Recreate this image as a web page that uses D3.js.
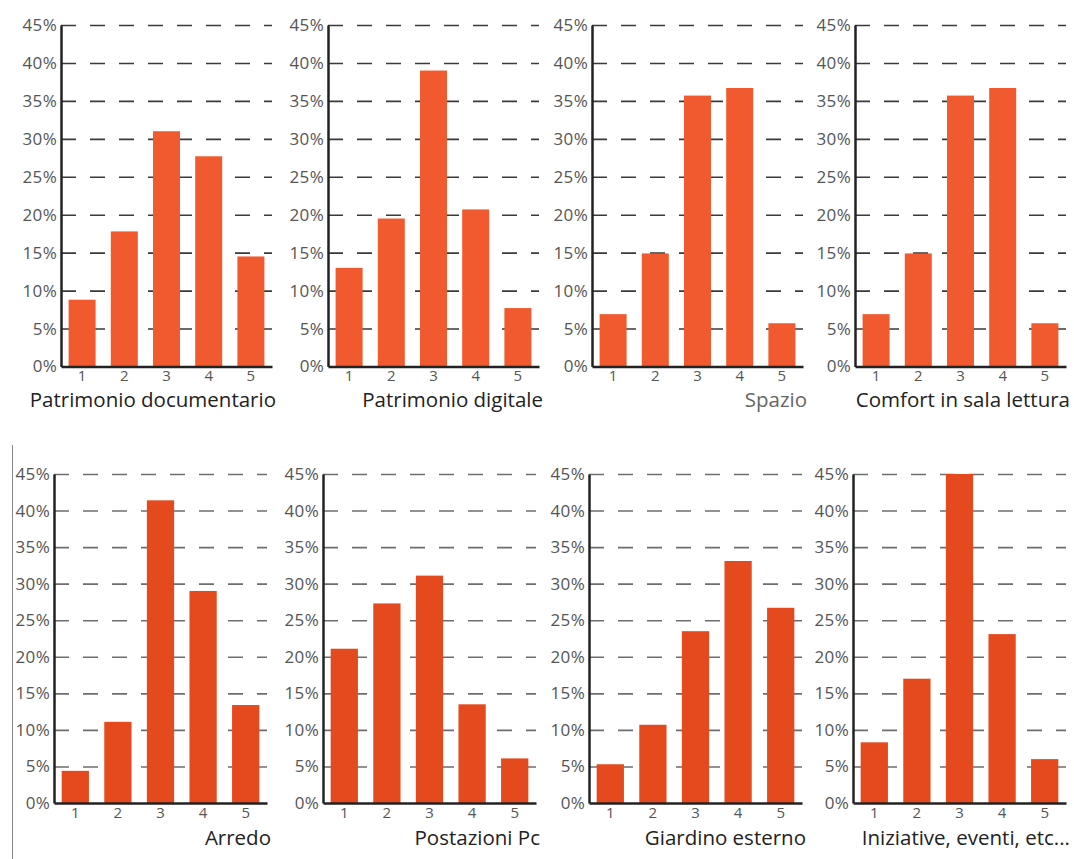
<!DOCTYPE html>
<html lang="it">
<head>
  <meta charset="UTF-8">
  <title>Valutazione servizi</title>
  <script src="https://d3js.org/d3.v7.min.js"></script>
  <style>
    body { margin: 0; background: #fff; }
    svg text { font-family: "Open Sans", Lato, sans-serif; }
    .grid line { stroke-dasharray: 15,14; }
    .grid .domain { display: none; }
  </style>
</head>
<body>
  <script>
  // rating categories and y ticks
  const ratings = ['1', '2', '3', '4', '5']
  const yTicks = [0, 5, 10, 15, 20, 25, 30, 35, 40, 45]

  const titles = [
    'Patrimonio documentario', 'Patrimonio digitale', 'Spazio', 'Comfort in sala lettura',
    'Arredo', 'Postazioni Pc', 'Giardino esterno', 'Iniziative, eventi, etc...'
  ]

  // percentages per rating (1..5)
  const patrimonioDocumentario = [8.8, 17.8, 31.0, 27.7, 14.5]
  const patrimonioDigitale = [13.0, 19.5, 39.0, 20.7, 7.7]
  const spazio = [6.9, 14.9, 35.7, 36.7, 5.7]
  const comfortSala = [6.9, 14.9, 35.7, 36.7, 5.7]
  const arredo = [4.4, 11.1, 41.4, 29.0, 13.4]
  const postazioniPc = [21.1, 27.3, 31.1, 13.5, 6.1]
  const giardinoEsterno = [5.3, 10.7, 23.5, 33.1, 26.7]
  const iniziative = [8.3, 17.0, 45.0, 23.1, 6.0]

  const series = [patrimonioDocumentario, patrimonioDigitale, spazio, comfortSala,
                  arredo, postazioniPc, giardinoEsterno, iniziative]

  // layout of the two rows
  const rows = [
    { top: 25, h: 341.5, w: 211, lefts: [61, 328, 592, 855], bar: '#f15a2f', grid: '#3a3a3a', titleDy: 40 },
    { top: 474, h: 329, w: 213, lefts: [54, 323, 589, 853], bar: '#e54a1f', grid: '#6e6e6e', titleDy: 42 }
  ]

  const svg = d3.select('body')
                .append('svg')
                .attr('width', 1074)
                .attr('height', 859)

  // thin separator on the left of the second row
  svg.append('line')
     .attr('x1', 12.5).attr('x2', 12.5)
     .attr('y1', 445).attr('y2', 859)
     .attr('stroke', '#888')
     .attr('stroke-width', 1)

  series.forEach((values, i) => {
    const row = rows[Math.floor(i / 4)]
    const left = row.lefts[i % 4]
    const w = row.w, h = row.h

    const g = svg.append('g')
                 .attr('transform', `translate(${left}, ${row.top})`)

    const yScale = d3.scaleLinear()
                     .domain([0, 45])
                     .range([h, 0])
    const xScale = d3.scaleBand()
                     .domain(ratings)
                     .range([0, w])
                     .paddingInner(0.36)
                     .paddingOuter(0.18)

    // dashed grid
    g.append('g')
     .attr('class', 'grid')
     .call(d3.axisLeft(yScale).tickValues(yTicks.slice(1)).tickSize(-w).tickFormat(''))
     .selectAll('line')
     .attr('stroke', row.grid)
     .attr('stroke-width', 1.6)

    g.selectAll('rect')
     .data(values)
     .enter()
     .append('rect')
     .attr('x', (d, j) => xScale(ratings[j]))
     .attr('y', d => yScale(d))
     .attr('width', xScale.bandwidth())
     .attr('height', d => h - yScale(d))
     .attr('fill', row.bar)

    const yAxis = g.append('g')
                   .call(d3.axisLeft(yScale).tickValues(yTicks).tickFormat(d => d + '%').tickSize(0).tickPadding(4))
    yAxis.select('.domain').attr('stroke', '#222').attr('stroke-width', 2.5)
    yAxis.selectAll('text')
         .attr('fill', '#555')
         .style('font-size', '17px')
         .style('letter-spacing', '0.3px')

    const xAxis = g.append('g')
                   .attr('transform', `translate(0, ${h})`)
                   .call(d3.axisBottom(xScale).tickSize(0).tickPadding(4))
    xAxis.select('.domain').attr('stroke', '#222').attr('stroke-width', 2.5)
    xAxis.selectAll('text')
         .attr('fill', '#555')
         .style('font-size', '15px')

    g.append('text')
     .attr('x', w + 4)
     .attr('y', h + row.titleDy)
     .attr('text-anchor', 'end')
     .attr('fill', i === 2 ? '#666' : '#222')
     .style('font-size', '20.5px')
     .text(titles[i])
  })
  </script>
</body>
</html>
